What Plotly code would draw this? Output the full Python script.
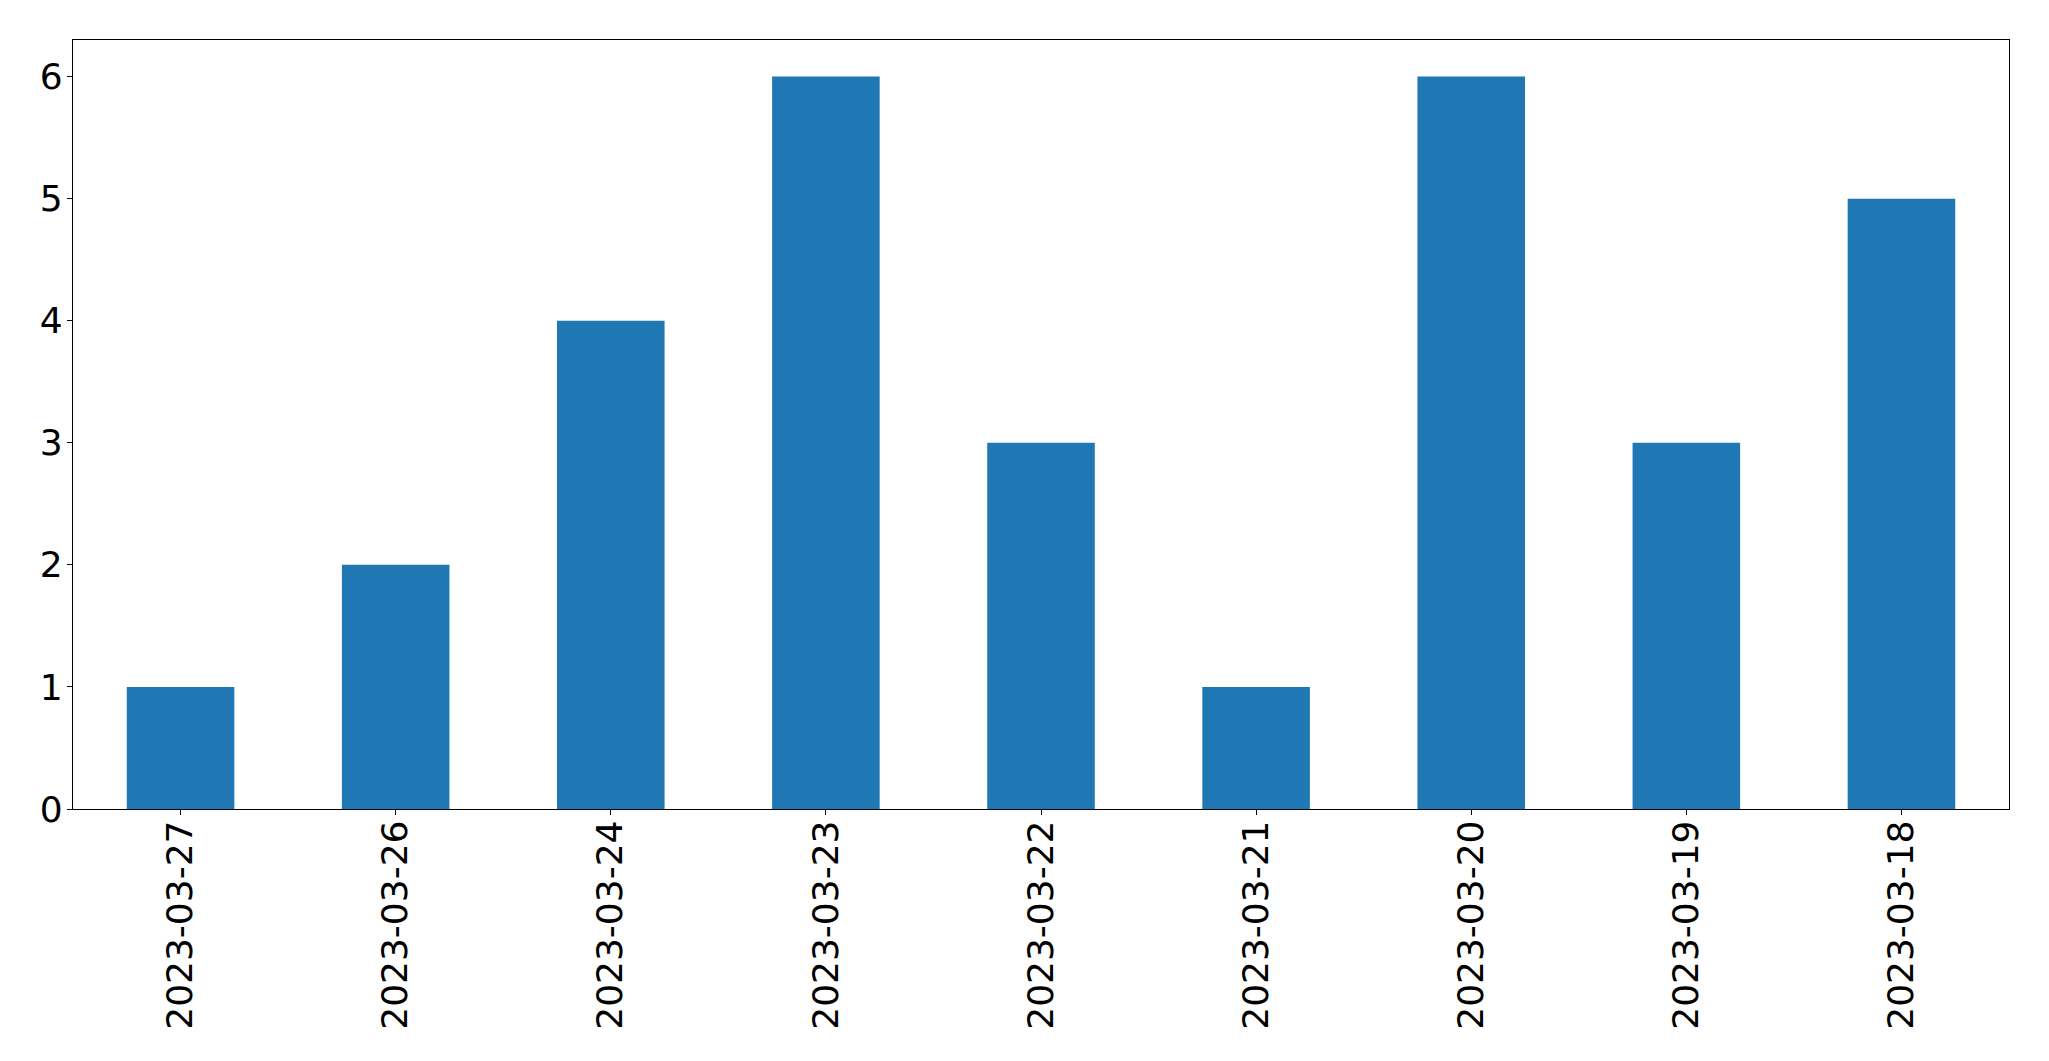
import plotly.graph_objects as go

dates = ["2023-03-27", "2023-03-26", "2023-03-24", "2023-03-23", "2023-03-22",
         "2023-03-21", "2023-03-20", "2023-03-19", "2023-03-18"]
counts = [1, 2, 4, 6, 3, 1, 6, 3, 5]
y_ticks = [0, 1, 2, 3, 4, 5, 6]

fig = go.Figure(go.Bar(x=dates, y=counts, width=0.5, marker=dict(color="#1f77b4", line=dict(width=0))))

font = dict(family="DejaVu Sans", size=36, color="black")
# page body has 8px margin; compensate
fig.update_layout(
    width=2033, height=1045,
    margin=dict(l=64.5, r=32, t=31.5, b=244, autoexpand=False),
    plot_bgcolor="white", paper_bgcolor="white",
    showlegend=False,
    font=font,
)
fig.update_xaxes(type="category", range=[-0.5, 8.5], tickangle=-90,
                 showline=True, linecolor="black", linewidth=1.3, mirror=True,
                 ticks="outside", ticklen=5, tickwidth=1.3, tickcolor="black",
                 showgrid=False, zeroline=False, tickfont=font, ticklabelstandoff=-9)
fig.update_yaxes(range=[0, 6.3], tickvals=y_ticks,
                 showline=True, linecolor="black", linewidth=1.3, mirror=True,
                 ticks="outside", ticklen=5, tickwidth=1.3, tickcolor="black",
                 showgrid=False, zeroline=False, tickfont=font, ticklabelstandoff=-3)

fig.write_html("out.html")
